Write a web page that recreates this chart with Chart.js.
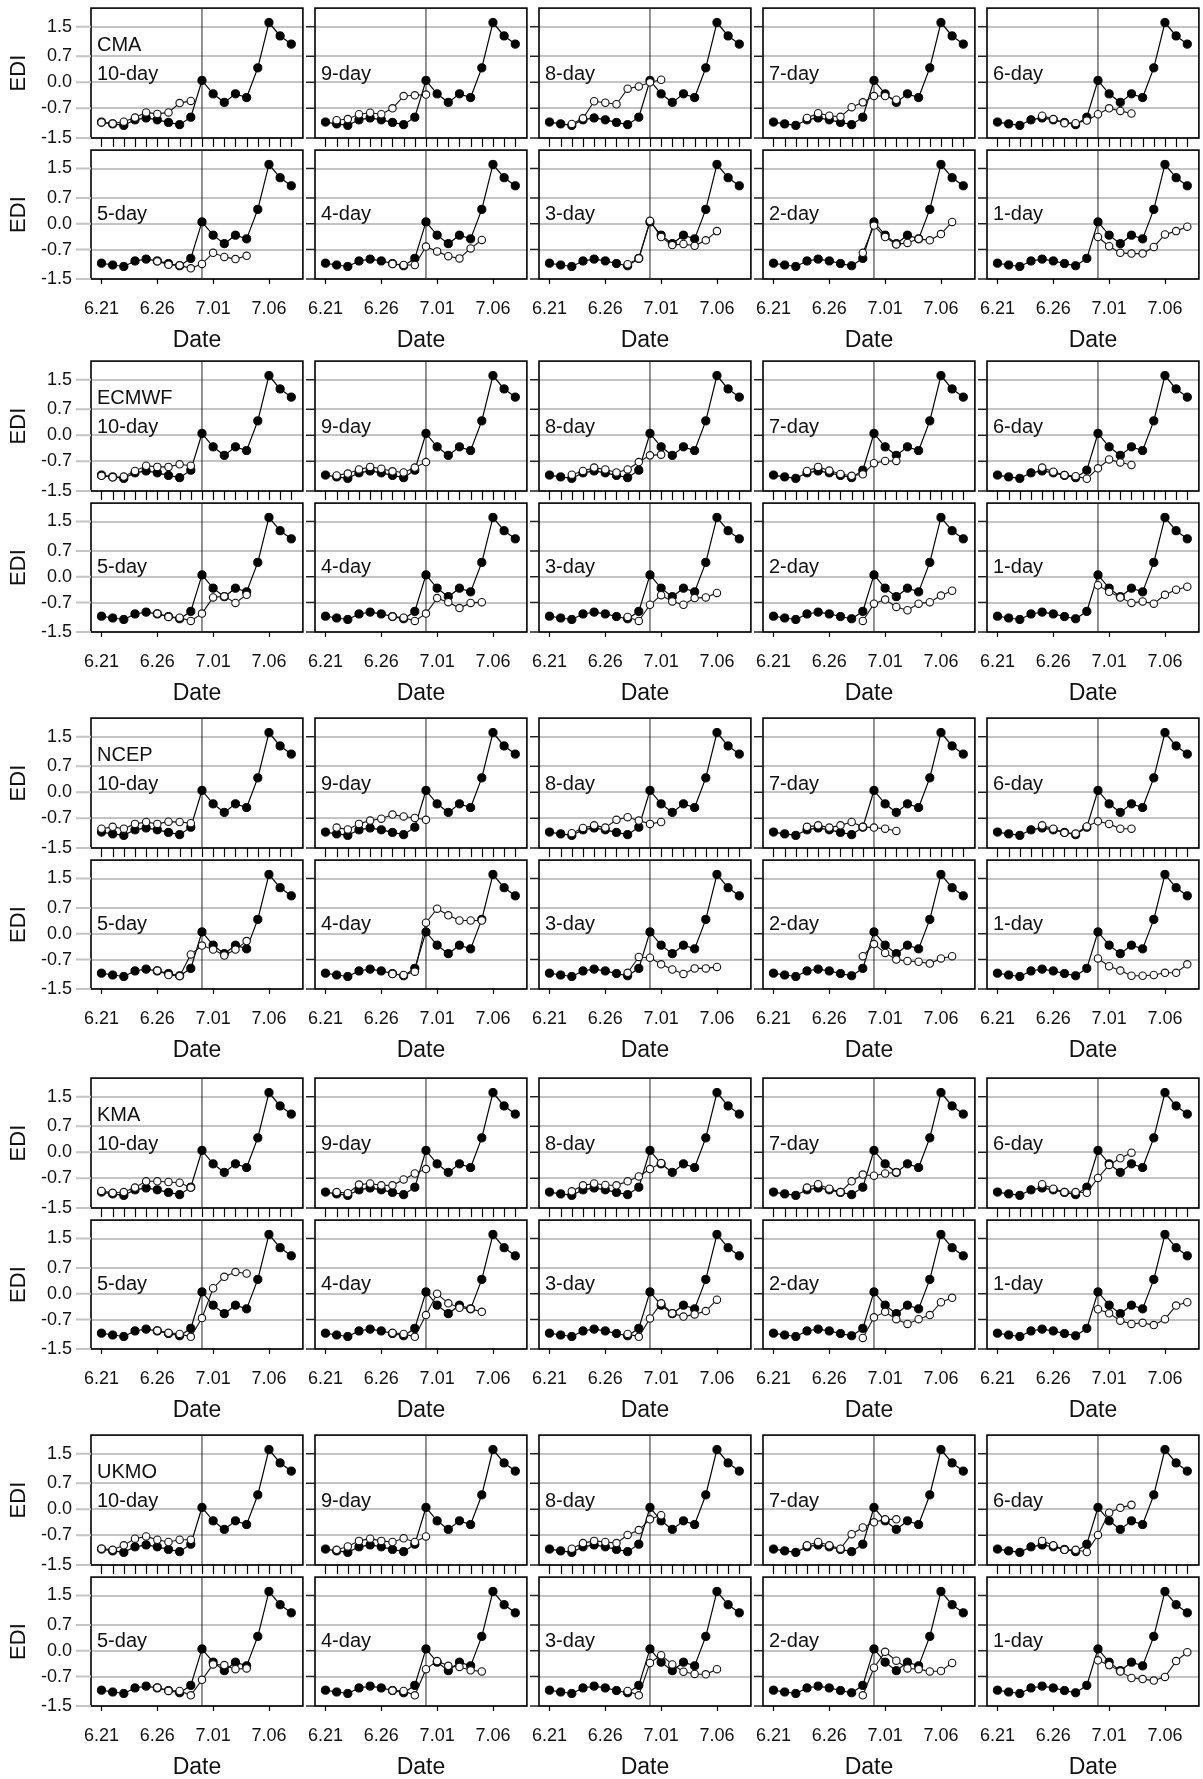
<!DOCTYPE html>
<html>
<head>
<meta charset="utf-8">
<script src="https://cdn.jsdelivr.net/npm/chart.js@4.4.0/dist/chart.umd.min.js"></script>
<style>
body { margin: 0; background: #fff; }
#wrap { position: relative; width: 1203px; height: 1779px; overflow: hidden; background: #fff; }
#wrap canvas { position: absolute; }
</style>
</head>
<body>
<div id="wrap"></div>
<script>
// dates 6.21 .. 7.08, day index 0..17
const dateLabels = ['6.21','6.22','6.23','6.24','6.25','6.26','6.27','6.28','6.29','6.30',
                    '7.01','7.02','7.03','7.04','7.05','7.06','7.07','7.08'];
const labelDays = [0, 5, 10, 15];
const stripDays = [0,1,2,3,4,5,6,7,8,9,10,11,12,13,14,15,16,17];
const yTicks = [-1.5, -0.7, 0.0, 0.7, 1.5];
const models = ['CMA', 'ECMWF', 'NCEP', 'KMA', 'UKMO'];
const leads = [10, 9, 8, 7, 6, 5, 4, 3, 2, 1];
const onsetDay = 9;

// observed EDI (filled circles)
const observed = [-1.07, -1.12, -1.16, -1.01, -0.96, -1.01, -1.08, -1.14, -0.94, 0.05,
                  -0.31, -0.54, -0.31, -0.41, 0.39, 1.61, 1.25, 1.03];

// forecast EDI (open circles), one row per lead time 10..1 day,
// each row starts at day (10 - lead)
const fcCMA = [
  [-1.08, -1.11, -1.06, -0.95, -0.81, -0.85, -0.81, -0.56, -0.50],
  [-1.02, -0.99, -0.86, -0.82, -0.86, -0.70, -0.37, -0.35, -0.33],
  [-1.12, -0.97, -0.51, -0.55, -0.59, -0.17, -0.11, 0.00, 0.07],
  [-0.96, -0.83, -0.90, -0.93, -0.67, -0.54, -0.37, -0.37, -0.47],
  [-0.90, -0.99, -1.10, -1.10, -1.03, -0.86, -0.70, -0.77, -0.84],
  [-1.02, -1.11, -1.13, -1.21, -1.09, -0.79, -0.90, -0.96, -0.87],
  [-1.09, -1.12, -1.12, -0.62, -0.75, -0.88, -0.94, -0.67, -0.44],
  [-1.10, -0.94, 0.08, -0.36, -0.58, -0.55, -0.60, -0.45, -0.20],
  [-0.79, -0.05, -0.36, -0.56, -0.52, -0.41, -0.45, -0.28, 0.05],
  [-0.36, -0.61, -0.79, -0.81, -0.81, -0.63, -0.29, -0.20, -0.08]
];
const fcECMWF = [
  [-1.09, -1.13, -1.11, -0.96, -0.82, -0.85, -0.85, -0.78, -0.82],
  [-1.08, -1.03, -0.92, -0.85, -0.90, -0.97, -1.00, -0.87, -0.72],
  [-1.06, -0.96, -0.87, -0.92, -1.00, -0.92, -0.72, -0.54, -0.52],
  [-0.96, -0.85, -0.95, -1.04, -1.09, -1.05, -0.75, -0.69, -0.69],
  [-0.87, -0.98, -1.07, -1.10, -1.17, -0.89, -0.65, -0.73, -0.80],
  [-1.00, -1.09, -1.11, -1.20, -1.00, -0.56, -0.53, -0.71, -0.49],
  [-1.08, -1.11, -1.20, -1.00, -0.58, -0.69, -0.85, -0.71, -0.69],
  [-1.09, -1.20, -0.76, -0.50, -0.67, -0.76, -0.58, -0.56, -0.44],
  [-1.20, -0.73, -0.62, -0.82, -0.91, -0.73, -0.69, -0.51, -0.38],
  [-0.23, -0.41, -0.56, -0.71, -0.67, -0.73, -0.49, -0.35, -0.27]
];
const fcNCEP = [
  [-0.98, -0.93, -0.98, -0.85, -0.80, -0.85, -0.79, -0.80, -0.83],
  [-0.95, -1.00, -0.85, -0.76, -0.71, -0.60, -0.65, -0.69, -0.74],
  [-1.10, -0.96, -0.89, -0.95, -0.74, -0.67, -0.76, -0.85, -0.80],
  [-0.93, -0.89, -0.95, -0.89, -0.80, -0.93, -0.95, -0.98, -1.04],
  [-0.89, -0.98, -1.09, -1.11, -0.92, -0.78, -0.85, -0.98, -0.98],
  [-1.00, -1.12, -1.15, -0.56, -0.32, -0.43, -0.59, -0.43, -0.20],
  [-1.09, -1.12, -1.03, 0.30, 0.68, 0.50, 0.36, 0.36, 0.36],
  [-1.06, -0.63, -0.65, -0.83, -0.97, -1.09, -0.94, -0.94, -0.90],
  [-0.61, -0.28, -0.52, -0.70, -0.74, -0.76, -0.81, -0.67, -0.61],
  [-0.67, -0.88, -1.00, -1.14, -1.14, -1.12, -1.06, -1.06, -0.83]
];
const fcKMA = [
  [-1.04, -1.09, -1.07, -0.95, -0.78, -0.78, -0.80, -0.82, -0.95],
  [-1.07, -1.10, -0.87, -0.84, -0.89, -0.89, -0.73, -0.57, -0.45],
  [-1.05, -0.89, -0.84, -0.88, -0.89, -0.78, -0.65, -0.45, -0.29],
  [-0.95, -0.86, -0.98, -1.07, -0.78, -0.60, -0.63, -0.57, -0.54],
  [-0.86, -0.98, -1.07, -1.07, -1.09, -0.69, -0.34, -0.16, -0.01],
  [-1.00, -1.06, -1.09, -1.17, -0.66, 0.15, 0.46, 0.59, 0.55],
  [-1.06, -1.09, -1.17, -0.58, 0.00, -0.26, -0.38, -0.41, -0.49],
  [-1.09, -1.17, -0.67, -0.26, -0.53, -0.62, -0.56, -0.47, -0.16],
  [-1.20, -0.64, -0.49, -0.69, -0.82, -0.69, -0.58, -0.23, -0.11],
  [-0.42, -0.53, -0.73, -0.82, -0.79, -0.85, -0.69, -0.32, -0.23]
];
const fcUKMO = [
  [-1.06, -1.09, -0.97, -0.79, -0.73, -0.82, -0.88, -0.82, -0.82],
  [-1.09, -1.00, -0.85, -0.79, -0.85, -0.88, -0.78, -0.88, -0.73],
  [-1.06, -0.91, -0.85, -0.88, -0.91, -0.69, -0.56, -0.27, -0.16],
  [-0.97, -0.88, -0.97, -1.06, -0.67, -0.49, -0.35, -0.27, -0.27],
  [-0.85, -0.97, -1.09, -1.09, -1.15, -0.69, -0.09, 0.04, 0.12],
  [-1.00, -1.09, -1.09, -1.21, -0.79, -0.37, -0.39, -0.50, -0.48],
  [-1.08, -1.09, -1.21, -0.50, -0.28, -0.41, -0.44, -0.53, -0.56],
  [-1.09, -1.21, -0.33, -0.12, -0.37, -0.57, -0.63, -0.64, -0.50],
  [-1.21, -0.46, -0.03, -0.27, -0.48, -0.50, -0.56, -0.55, -0.33],
  [-0.26, -0.39, -0.56, -0.74, -0.77, -0.81, -0.71, -0.28, -0.04]
];
const forecasts = [fcCMA, fcECMWF, fcNCEP, fcKMA, fcUKMO];

// layout of the panel grid
const panelLefts = [91, 315, 539, 763, 987];
const panelW = 215;
const groupTops = [5, 358, 715, 1075, 1432];
const topH = 133, lowOffset = 142, lowH = 132;

const FONT = '"Liberation Sans", Arial, Helvetica, sans-serif';
Chart.defaults.font.family = FONT;
Chart.defaults.color = '#111';

const wrap = document.getElementById('wrap');

// black frame around each panel
const framePlugin = {
    id: 'frame',
    beforeDatasetsDraw(chart) {
        const a = chart.chartArea;
        const ctx = chart.ctx;
        ctx.save();
        ctx.strokeStyle = '#000';
        ctx.lineWidth = 1.6;
        ctx.strokeRect(a.left, a.top, a.right - a.left, a.bottom - a.top);
        ctx.restore();
    }
};

// outward tick marks, placed with the chart's own scales
const tickMarks = {
    id: 'tickMarks',
    afterDraw(chart, args, opts) {
        const a = chart.chartArea;
        const ctx = chart.ctx;
        const xs = chart.scales.x, ys = chart.scales.y;
        ctx.save();
        ctx.lineWidth = 1.2;
        ctx.strokeStyle = '#000';
        ctx.beginPath();
        opts.xValues.forEach(v => {
            const px = Math.round(xs.getPixelForValue(v)) + 0.5;
            ctx.moveTo(px, a.bottom);
            ctx.lineTo(px, a.bottom + opts.xLen);
        });
        ctx.stroke();
        ctx.lineWidth = opts.yWidth;
        ctx.strokeStyle = opts.yColor;
        ctx.beginPath();
        yTicks.forEach(v => {
            const py = ys.getPixelForValue(v);
            ctx.moveTo(a.left - opts.yLen, py);
            ctx.lineTo(a.left, py);
        });
        ctx.stroke();
        ctx.restore();
    }
};

// model name and lead time written in the upper left of a panel
const panelLabel = {
    id: 'panelLabel',
    afterDraw(chart, args, opts) {
        const a = chart.chartArea;
        const ctx = chart.ctx;
        ctx.save();
        ctx.fillStyle = '#111';
        ctx.font = '20px ' + FONT;
        ctx.textBaseline = 'middle';
        ctx.textAlign = 'left';
        if (opts.model) ctx.fillText(opts.model, a.left + 6, a.top + 37.5);
        ctx.fillText(opts.lead, a.left + 6, a.top + opts.leadY);
        ctx.restore();
    }
};

function makePanel(g, k) {
    const lead = leads[k];
    const row = k < 5 ? 0 : 1;
    const col = k % 5;
    const axisW = col === 0 ? 91 : 30;
    const axisH = row === 0 ? 9 : 78;
    const padT = 2, padR = 2;
    const plotH = row === 0 ? topH : lowH;
    const plotTop = groupTops[g] + (row === 0 ? 0 : lowOffset);

    const w = axisW + panelW + padR;
    const h = padT + plotH + axisH;
    const canvas = document.createElement('canvas');
    canvas.width = w;
    canvas.height = h;
    canvas.style.left = (panelLefts[col] - axisW) + 'px';
    canvas.style.top = (plotTop - padT) + 'px';
    canvas.style.width = w + 'px';
    canvas.style.height = h + 'px';
    wrap.appendChild(canvas);

    const start = 10 - lead;
    const fcPts = forecasts[g][k].map((v, i) => ({ x: start + i, y: v }));
    const obsPts = observed.map((v, i) => ({ x: i, y: v }));

    new Chart(canvas, {
        type: 'line',
        data: {
            datasets: [
                {
                    data: fcPts,
                    order: 0,
                    borderColor: '#111',
                    borderWidth: 1.1,
                    pointRadius: 3.7,
                    pointBackgroundColor: '#fff',
                    pointBorderColor: '#111',
                    pointBorderWidth: 1.1,
                    tension: 0
                },
                {
                    data: obsPts,
                    order: 1,
                    borderColor: '#000',
                    borderWidth: 1.2,
                    pointRadius: 4.1,
                    pointBackgroundColor: '#000',
                    pointBorderColor: '#000',
                    pointBorderWidth: 1,
                    tension: 0
                },
                {
                    data: [{ x: onsetDay, y: -1.5 }, { x: onsetDay, y: 2.0 }],
                    order: 2,
                    borderColor: '#222',
                    borderWidth: 1,
                    pointRadius: 0
                }
            ]
        },
        options: {
            responsive: false,
            animation: false,
            events: [],
            layout: { padding: { top: padT, right: padR, left: 0, bottom: 0 } },
            plugins: {
                legend: { display: false },
                tooltip: { enabled: false },
                tickMarks: {
                    xValues: row === 0 ? stripDays : labelDays,
                    xLen: row === 0 ? 9 : 5,
                    yLen: col === 0 ? 15 : 9,
                    yColor: col === 0 ? '#c4c4c4' : '#222',
                    yWidth: col === 0 ? 2 : 1.5
                },
                panelLabel: {
                    model: (row === 0 && col === 0) ? models[g] : null,
                    lead: lead + '-day',
                    leadY: row === 0 ? 66 : 64
                }
            },
            scales: {
                x: {
                    type: 'linear',
                    min: -0.94,
                    max: 18.04,
                    afterBuildTicks: s => { s.ticks = (row === 0 ? stripDays : labelDays).map(v => ({ value: v })); },
                    afterFit: s => {
                        s.height = axisH;
                        s.paddingLeft = 0; s.paddingRight = 0; s.paddingTop = 0; s.paddingBottom = 0;
                    },
                    grid: { display: false, drawOnChartArea: false, drawTicks: false },
                    border: { display: false },
                    ticks: {
                        display: row === 1,
                        autoSkip: false,
                        maxRotation: 0,
                        padding: 19,
                        font: { size: 18 },
                        color: '#111',
                        callback: v => dateLabels[v]
                    },
                    title: {
                        display: row === 1,
                        text: 'Date',
                        font: { size: 23 },
                        color: '#111',
                        padding: { top: 0, bottom: 3 }
                    }
                },
                y: {
                    min: -1.5,
                    max: 2.0,
                    afterBuildTicks: s => { s.ticks = yTicks.map(v => ({ value: v })); },
                    afterFit: s => {
                        s.width = axisW;
                        s.paddingLeft = 0; s.paddingRight = 0; s.paddingTop = 0; s.paddingBottom = 0;
                    },
                    grid: {
                        color: '#c4c4c4',
                        lineWidth: 2,
                        drawTicks: false
                    },
                    border: { display: false },
                    ticks: {
                        display: col === 0,
                        padding: 19,
                        font: { size: 18 },
                        color: '#111',
                        callback: v => v.toFixed(1)
                    },
                    title: {
                        display: col === 0,
                        text: 'EDI',
                        font: { size: 22 },
                        color: '#111',
                        padding: { top: 6, bottom: 0 }
                    }
                }
            }
        },
        plugins: [framePlugin, tickMarks, panelLabel]
    });
}

models.forEach((m, g) => {
    leads.forEach((lead, k) => makePanel(g, k));
});
</script>
</body>
</html>
